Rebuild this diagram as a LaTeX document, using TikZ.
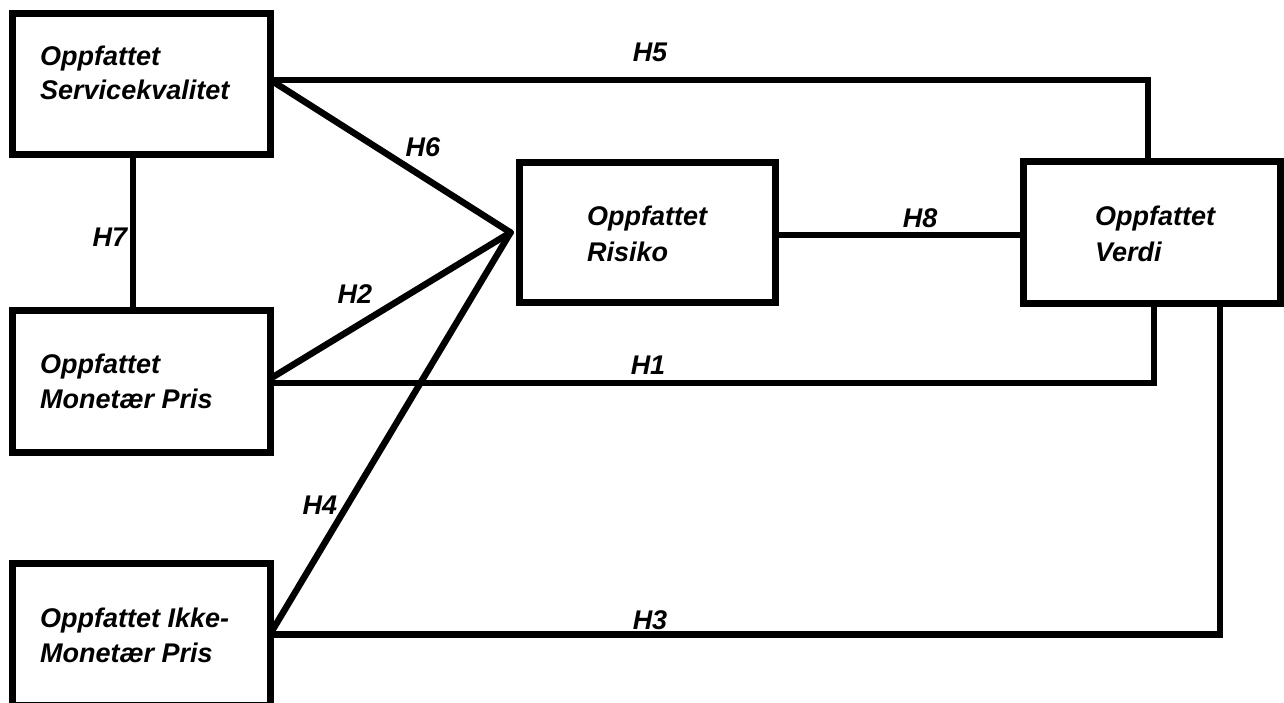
\documentclass[tikz,border=0pt]{standalone}
\usepackage{fontspec}
\setmainfont{Liberation Sans}
\tikzset{
  box/.style={draw, line width=7pt, inner sep=0pt, outer sep=0pt, minimum width=258pt, minimum height=142pt},
  txt/.style={anchor=base west, inner sep=0pt, font=\fontsize{27}{33}\selectfont\bfseries\itshape},
  lab/.style={inner sep=0pt, font=\fontsize{27}{33}\selectfont\bfseries\itshape},
  conn/.style={line width=6.5pt, line join=miter},
}
\begin{document}
\begin{tikzpicture}[x=1pt,y=-1pt]
\useasboundingbox (0,0) rectangle (1284,702);
% boxes
\node[box, minimum height=141pt] (b1) at (141.5,84) {};
\node[box] (b2) at (141.5,381.5) {};
\node[box] (b3) at (141.5,634.5) {};
\node[box, minimum width=256pt, minimum height=140pt] (b4) at (647.5,232.5) {};
\node[box, minimum width=257pt] (b5) at (1152,232.5) {};
% texts
\node[txt] (t1a) at (40,65) {Oppfattet};
\node[txt] (t1b) at (40,99) {Servicekvalitet};
\node[txt] (t2a) at (40,373) {Oppfattet};
\node[txt] (t2b) at (40,408) {Monetær Pris};
\node[txt] (t3a) at (40,627) {Oppfattet Ikke-};
\node[txt] (t3b) at (40,662) {Monetær Pris};
\node[txt] (t4a) at (587,225) {Oppfattet};
\node[txt] (t4b) at (587,261) {Risiko};
\node[txt] (t5a) at (1095,225) {Oppfattet};
\node[txt] (t5b) at (1095,261) {Verdi};
% convergence point
\coordinate (c) at ([xshift=-9pt]b4.west);
% connectors
\draw[conn] ([yshift=4pt]b1.east) -| ([xshift=-4pt]b5.north);
\draw[conn, line cap=round] ([yshift=4pt]b1.east) -- (c);
\draw[conn] ([xshift=-8.5pt]b1.south) -- ([xshift=-8.5pt]b2.north);
\draw[conn, line cap=round] ([yshift=3pt]b2.east) -- (c);
\draw[conn] ([yshift=-1.5pt]b2.east) -| ([xshift=2pt]b5.south);
\draw[conn, line cap=round] ([yshift=1pt]b3.east) -- (c);
\draw[conn] (b3.east) -| ([xshift=68pt]b5.south);
\draw[conn] ([yshift=-2.5pt]b4.east) -- ([yshift=-2.5pt]b5.west);
% labels
\node[lab] (h5) at (650,52) {H5};
\node[lab] (h6) at (423,147) {H6};
\node[lab] (h7) at (110,237) {H7};
\node[lab] (h8) at (920,218) {H8};
\node[lab] (h2) at (355,294) {H2};
\node[lab] (h1) at (648,365) {H1};
\node[lab] (h4) at (320,505) {H4};
\node[lab] (h3) at (650,620) {H3};
\end{tikzpicture}
\end{document}
